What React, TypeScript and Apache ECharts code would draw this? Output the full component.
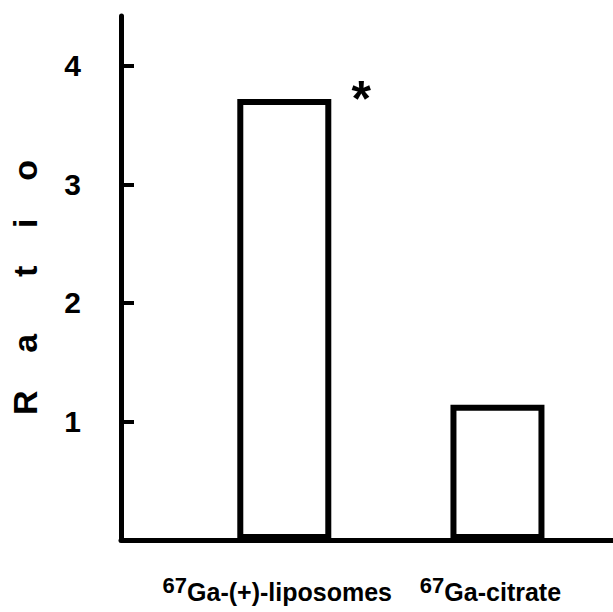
import React, { useEffect, useRef } from "react";
import * as echarts from "echarts";

const categories = ["Ga-(+)-liposomes", "Ga-citrate"];
const isotope = "67";
const ratios = [3.72, 1.14];
const yTicks = [1, 2, 3, 4];
const yAxisTitle = "R    a      t    i    o  ";
const significance = "*";

export default function App() {
  const ref = useRef<HTMLDivElement>(null);
  useEffect(() => {
    if (!ref.current) return;
    const chart = echarts.init(ref.current, null, { renderer: "svg" });
    const font = "Liberation Sans, Arial, sans-serif";
    chart.setOption({
      animation: false,
      backgroundColor: "#fff",
      grid: { left: 119, right: 0, top: 16, bottom: 72, containLabel: false },
      xAxis: {
        type: "value",
        min: -0.766,
        max: 1.542,
        splitLine: { show: false },
        axisLine: { show: true, onZero: false, lineStyle: { color: "#000", width: 5, cap: "round" } },
        axisTick: { show: false },
        axisLabel: {
          customValues: [0, 1],
          margin: 34,
          color: "#000",
          fontFamily: font,
          formatter: (v: number) => `{s|${isotope}}{b|${categories[Math.round(v)]}}`,
          padding: [0, 14, 0, 0],
          rich: {
            s: { fontSize: 22, fontWeight: "bold", fontFamily: font, color: "#000", verticalAlign: "top", lineHeight: 18 },
            b: { fontSize: 25, fontWeight: "bold", fontFamily: font, color: "#000", verticalAlign: "bottom", lineHeight: 30 },
          },
        },
      },
      yAxis: {
        type: "value",
        min: 0,
        max: 4.42,
        splitLine: { show: false },
        name: yAxisTitle,
        nameLocation: "middle",
        nameGap: 79,
        nameTextStyle: { fontSize: 34, fontFamily: font, color: "#000", fontWeight: "bold" },
        axisLine: { show: true, onZero: false, lineStyle: { color: "#000", width: 5, cap: "round" } },
        axisTick: {
          show: true,
          inside: true,
          length: 13,
          customValues: yTicks,
          lineStyle: { color: "#000", width: 4 },
        },
        axisLabel: {
          customValues: yTicks,
          fontSize: 30,
          fontWeight: "bold",
          fontFamily: font,
          color: "#000",
          margin: 40,
          padding: [16, 0, 0, 0],
        },
      },
      series: [
        {
          type: "bar",
          barWidth: 94,
          data: ratios.map((r, i) => ({
            value: [i, r],
            label:
              i === 0
                ? {
                    show: true,
                    formatter: significance,
                    position: [124, 0],
                    fontSize: 50,
                    fontWeight: "bold",
                    color: "#000",
                    fontFamily: font,
                    align: "center",
                    verticalAlign: "middle",
                  }
                : { show: false },
          })),
          itemStyle: { color: "#fff", borderColor: "#000", borderWidth: 6 },
        },
      ],
    });
    return () => chart.dispose();
  }, []);
  return (
    <div
      ref={ref}
      style={{ position: "fixed", left: 0, top: 0, width: 613, height: 612, background: "#fff" }}
    />
  );
}
